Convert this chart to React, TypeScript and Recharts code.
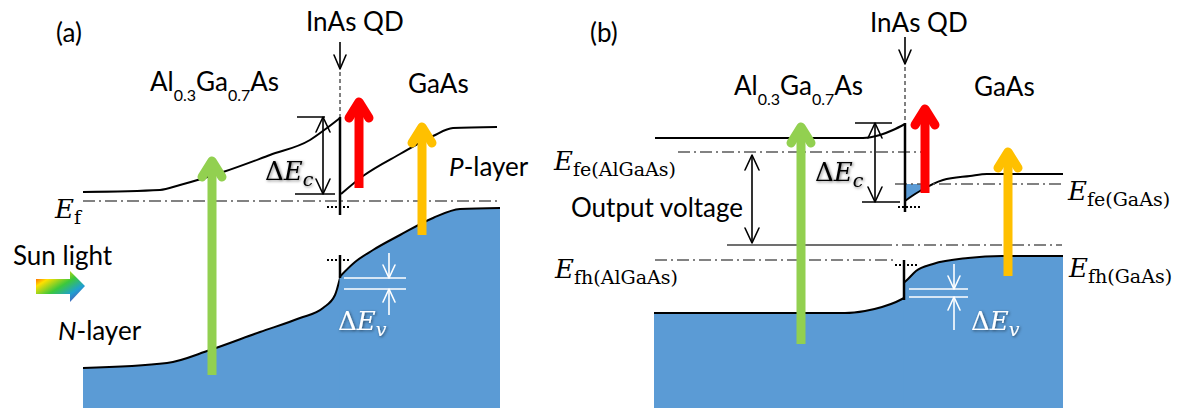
import React from "react";
import { ComposedChart, Line, Area, XAxis, YAxis, ReferenceLine, ReferenceDot } from "recharts";

const W = 1184;
const H = 408;

// band edges as [x, y] pairs; y grows downward (higher energy = smaller y)
const cbLeftA = [[83, 192], [160, 190], [180, 185], [223, 172], [270, 155], [310, 140], [327, 128], [340, 118]];
const cbRightA = [[341, 194], [363, 176], [400, 154], [433, 136], [453, 128], [497, 127]];
const vbLeftA = [[83, 368], [167, 363], [210, 350], [260, 332], [300, 318], [323, 308], [335, 295], [340, 278]];
const vbRightA = [[339.5, 277], [355, 262], [373, 250], [400, 235], [433, 218], [460, 209], [500, 208]];

const cbLeftB = [[655, 138], [863, 138], [880, 135], [893, 130], [905, 124]];
const cbRightB = [[905, 201], [912, 196], [920, 191], [943, 180], [970, 176], [987, 174], [1063, 174]];
const electronPoolB = [[905, 201], [912, 196], [920, 191], [926, 184]];
const electronQuasiFermiB = 184;
const vbLeftB = [[654, 313], [845, 313], [865, 311], [882, 307], [896, 302], [904, 298]];
const vbRightB = [[903.5, 283], [908, 279], [916, 271], [933, 264], [968, 258], [1002, 256], [1063, 256]];

// Fermi / quasi-Fermi levels: [y, xStart, xEnd]
const fermiLevels = [[201, 83, 497], [152, 678, 922], [184, 895, 1063], [245, 880, 1062], [260, 655, 895]];
const outputLevel = [245, 727, 880];

// QD walls [x, yTop, yBottom], QD confined states [y, xStart, xEnd]
const qdWalls = [[340, 117, 215], [340, 255, 278], [905, 123, 212], [904, 260, 300]];
const qdStates = [[207, 327, 350], [260, 327, 350], [207, 898, 920], [265, 895, 918]];
const qdMarkers = [[340, 72, 117], [905, 67, 123]];

// photon absorption arrows [x, yFrom, yTo]: AlGaAs gap, QD transition, GaAs gap
const transitionsA = [[212, 375, 161], [359, 188, 102], [422, 235, 127]];
const transitionsB = [[801, 344, 127], [925, 193, 109], [1008, 276, 152]];
const transitionColors = ["#92D050", "#FF0000", "#FFC000"];

// offsets: [x, yFrom, yTo]
const qdPointers = [[340, 42, 69], [905, 37, 64]];
const deltaEc = [[323, 117, 194], [875, 123, 202]];
const deltaEcCaps = [[117, 297, 325], [194, 295, 335], [123, 855, 892], [202, 862, 900]];
const outputVoltage = [[752, 155, 243]];
const deltaEv = [[389, 253, 278], [389, 315, 289], [954, 264, 289], [954, 330, 297]];
const deltaEvLevels = [[278, 344, 406], [289, 344, 406], [289, 909, 968], [297, 909, 968]];

const BLUE = "#5B9BD5";
const SANS = "Lato, 'Open Sans', sans-serif";
const SERIF = "'DejaVu Serif', serif";

const pts = (a: number[][]) => a.map(([x, y]) => ({ x, y }));

function arrow(key: string, [x, from, to]: number[], color: string, width: number, head: [number, number], both = false) {
  const dir = Math.sign(to - from);
  const dot = (p: any) => {
    const { cx, cy, index } = p;
    if (index === 1 || both) {
      const d = index === 1 ? dir : -dir;
      return (
        <polyline
          key={`${key}-${index}`}
          points={`${cx - head[0]},${cy - d * head[1]} ${cx},${cy} ${cx + head[0]},${cy - d * head[1]}`}
          fill="none"
          stroke={color}
          strokeWidth={width}
          strokeLinecap="round"
          strokeLinejoin="round"
        />
      );
    }
    return <g key={`${key}-${index}`} />;
  };
  return (
    <Line
      key={key}
      data={[{ x, y: from }, { x, y: to }]}
      dataKey="y"
      type="linear"
      stroke={color}
      strokeWidth={width}
      dot={dot}
      activeDot={false}
      isAnimationActive={false}
    />
  );
}

function seg(key: string, x1: number, y1: number, x2: number, y2: number, props: any) {
  return <ReferenceLine key={key} segment={[{ x: x1, y: y1 }, { x: x2, y: y2 }]} {...props} />;
}

function MathLabel({ x, y, sub, delta = false, fill = "#000", filter }: any) {
  return (
    <text x={x} y={y} fontFamily={SERIF} fontSize={26} fill={fill} filter={filter}>
      {delta && <tspan>Δ</tspan>}
      <tspan fontStyle="italic">E</tspan>
      <tspan fontSize={19} dy={6} fontStyle={delta ? "italic" : "normal"}>{sub}</tspan>
    </text>
  );
}

function Alloy({ x, y }: { x: number; y: number }) {
  return (
    <text x={x} y={y} fontFamily={SANS} fontSize={26}>
      Al<tspan fontSize={16} dy={10}>0.3</tspan>
      <tspan dy={-10}>Ga</tspan>
      <tspan fontSize={16} dy={10}>0.7</tspan>
      <tspan dy={-10}>As</tspan>
    </text>
  );
}

// ΔE_v labels sit on the filled valence band, so they are placed as reference dots
const evLabelAt = [[338, 330], [971, 330]];

export default function App() {
  return (
    <div style={{ position: "absolute", left: 0, top: 0, background: "#fff" }}>
      <ComposedChart width={W} height={H} margin={{ top: 0, right: 0, bottom: 0, left: 0 }}>
        <defs>
          <filter id="soft" x="-30%" y="-30%" width="160%" height="160%">
            <feDropShadow dx="1" dy="1" stdDeviation="1.6" floodColor="#000" floodOpacity="0.55" />
          </filter>
          <linearGradient id="spectrum" x1="0" y1="0" x2="1" y2="1">
            <stop offset="0" stopColor="#ff0000" />
            <stop offset="0.25" stopColor="#ffe000" />
            <stop offset="0.5" stopColor="#3cc83c" />
            <stop offset="0.72" stopColor="#1fa0d0" />
            <stop offset="1" stopColor="#6a2ca8" />
          </linearGradient>
        </defs>
        <XAxis type="number" dataKey="x" domain={[0, W]} hide allowDataOverflow />
        <YAxis type="number" domain={[0, H]} reversed hide allowDataOverflow />

        {/* valence band, filled */}
        {[vbLeftA, vbRightA, vbLeftB, vbRightB].map((d, i) => (
          <Area
            key={`vb${i}`}
            data={pts(d)}
            dataKey="y"
            type="monotone"
            baseValue={H}
            fill={BLUE}
            fillOpacity={1}
            stroke="#000"
            strokeWidth={2}
            isAnimationActive={false}
            activeDot={false}
          />
        ))}
        {/* electrons collected in the GaAs conduction band */}
        <Area
          data={electronPoolB.map(([x, y]) => ({ x, y: [electronQuasiFermiB, y] }))}
          dataKey="y"
          type="monotone"
          fill={BLUE}
          fillOpacity={1}
          stroke="none"
          isAnimationActive={false}
          activeDot={false}
        />

        {/* conduction band */}
        {[cbLeftA, cbRightA, cbLeftB, cbRightB].map((d, i) => (
          <Line
            key={`cb${i}`}
            data={pts(d)}
            dataKey="y"
            type="monotone"
            stroke="#000"
            strokeWidth={2}
            dot={false}
            activeDot={false}
            isAnimationActive={false}
          />
        ))}

        {fermiLevels.map(([y, a, b], i) =>
          seg(`ef${i}`, a, y, b, y, { stroke: "#595959", strokeWidth: 1.5, strokeDasharray: "12 4 2 4" })
        )}
        {seg("out", outputLevel[1], outputLevel[0], outputLevel[2], outputLevel[0], { stroke: "#404040", strokeWidth: 1.5 })}
        {qdWalls.map(([x, a, b], i) => seg(`wall${i}`, x, a, x, b, { stroke: "#000", strokeWidth: 2.5 }))}
        {qdStates.map(([y, a, b], i) => seg(`st${i}`, a, y, b, y, { stroke: "#000", strokeWidth: 2, strokeDasharray: "2 2" }))}
        {qdMarkers.map(([x, a, b], i) => seg(`mk${i}`, x, a, x, b, { stroke: "#000", strokeWidth: 1, strokeDasharray: "4 3" }))}
        {deltaEcCaps.map(([y, a, b], i) => seg(`cap${i}`, a, y, b, y, { stroke: "#000", strokeWidth: 1.5 }))}
        {deltaEvLevels.map(([y, a, b], i) => seg(`ev${i}`, a, y, b, y, { stroke: "#fff", strokeWidth: 1.5 }))}

        {transitionsA.map((t, i) => arrow(`ta${i}`, t, transitionColors[i], 9, [10, 16]))}
        {transitionsB.map((t, i) => arrow(`tb${i}`, t, transitionColors[i], 9, [10, 16]))}
        {qdPointers.map((t, i) => arrow(`qp${i}`, t, "#000", 1.6, [6, 14]))}
        {deltaEc.map((t, i) => arrow(`dc${i}`, t, "#000", 1.6, [7, 15], true))}
        {outputVoltage.map((t, i) => arrow(`ov${i}`, t, "#000", 1.6, [7, 15], true))}
        {deltaEv.map((t, i) => arrow(`dv${i}`, t, "#fff", 1.6, [6, 13]))}

        {evLabelAt.map(([x, y], i) => (
          <ReferenceDot
            key={`evl${i}`}
            x={x}
            y={y}
            r={1}
            shape={(p: any) => <MathLabel x={p.cx} y={p.cy} sub="v" delta fill="#fff" filter="url(#soft)" />}
          />
        ))}

        {/* sunlight arrow */}
        <path d="M36,279 L70,279 L70,271 L85,286 L70,302 L70,294 L36,294 Z" fill="url(#spectrum)" />

        <g fontFamily={SANS} fontSize={26} fill="#000">
          <text x={56} y={42}>(a)</text>
          <text x={590} y={42}>(b)</text>
          <text x={306} y={31}>InAs QD</text>
          <text x={870} y={32}>InAs QD</text>
          <text x={408} y={93}>GaAs</text>
          <text x={974} y={96}>GaAs</text>
          <text x={449} y={176}><tspan fontStyle="italic">P</tspan>-layer</text>
          <text x={13} y={265}>Sun light</text>
          <text x={58} y={340}><tspan fontStyle="italic">N</tspan>-layer</text>
          <text x={571} y={217}>Output voltage</text>
        </g>
        <Alloy x={150} y={91} />
        <Alloy x={734} y={95} />

        <MathLabel x={55} y={218} sub="f" />
        <MathLabel x={554} y={170} sub="fe(AlGaAs)" />
        <MathLabel x={555} y={278} sub="fh(AlGaAs)" />
        <MathLabel x={1068} y={200} sub="fe(GaAs)" />
        <MathLabel x={1069} y={277} sub="fh(GaAs)" />
        <MathLabel x={265} y={180} sub="c" delta filter="url(#soft)" />
        <MathLabel x={815} y={181} sub="c" delta filter="url(#soft)" />
      </ComposedChart>
    </div>
  );
}
